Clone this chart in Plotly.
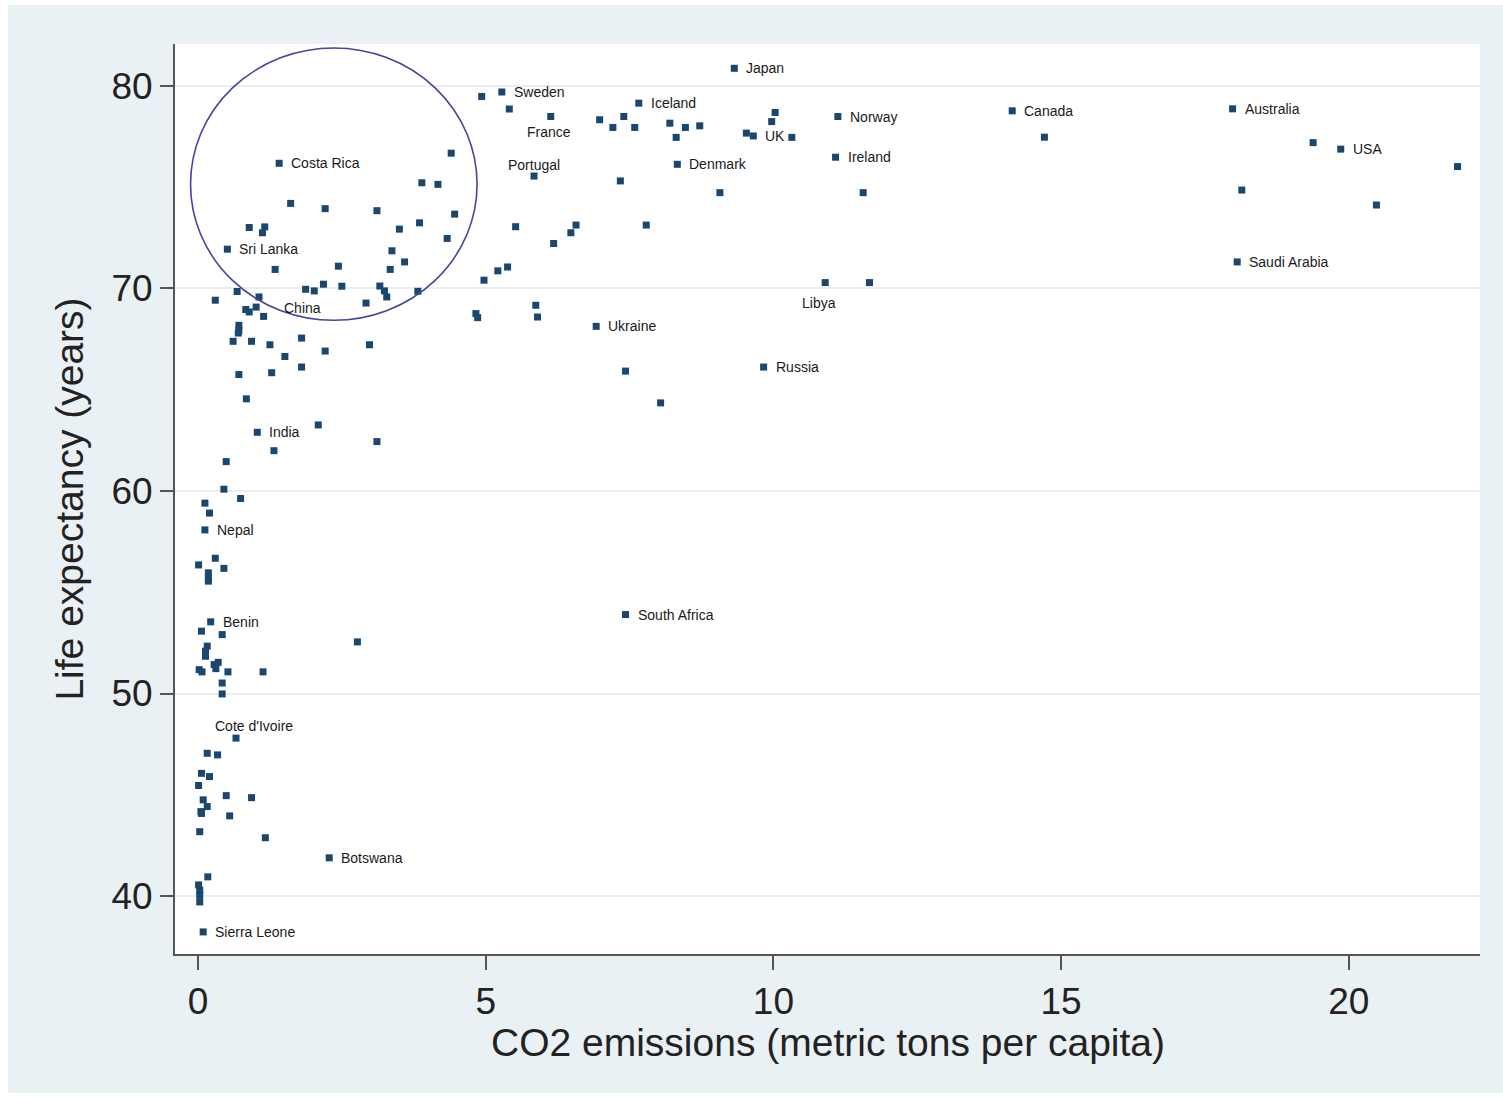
import plotly.graph_objects as go

# ---- data ----
co2 = [4.93, 5.28, 5.41, 1.41, 4.40, 3.89, 4.17, 1.61, 2.21, 3.11, 4.46, 0.89, 1.16, 1.12, 3.85,
       3.50, 4.33, 0.51, 3.37, 3.59, 2.44, 3.34, 1.34, 5.21, 4.97, 2.18, 2.50, 1.87, 2.02, 3.16,
       3.24, 3.28, 3.82, 0.68, 1.06, 0.30, 0.83, 0.89, 1.01, 1.14, 2.92, 4.83, 4.86, 0.71, 0.71,
       0.70, 0.61, 0.93, 1.25, 1.80, 1.51, 2.21, 2.98, 0.71, 1.28, 1.80, 0.84, 1.03, 2.09, 1.32,
       3.11, 0.49, 0.45, 0.74, 0.12, 0.20, 0.12, 0.30, 0.01, 0.45, 0.18, 0.18, 0.18, 0.22, 0.06,
       0.42, 2.77, 0.16, 0.13, 0.13, 0.02, 0.07, 0.28, 0.35, 0.31, 0.52, 1.13, 0.42, 0.42, 0.66,
       0.16, 0.34, 0.06, 0.20, 0.01, 0.09, 0.16, 0.05, 0.06, 0.49, 0.93, 0.55, 0.03, 1.17, 2.28,
       0.17, 0.01, 0.03, 0.03, 0.03, 0.09, 9.32, 7.66, 6.13, 6.98, 7.21, 7.40, 7.59, 8.20, 8.47,
       8.72, 8.31, 10.03, 9.97, 9.53, 9.65, 10.32, 11.12, 11.08, 5.84, 8.33, 7.34, 9.07, 11.56, 5.52,
       6.57, 6.48, 7.79, 6.18, 5.38, 10.90, 11.67, 5.87, 5.90, 6.92, 7.43, 8.04, 9.83, 7.43, 14.15,
       14.71, 17.98, 19.38, 19.86, 21.89, 18.14, 20.48, 18.06]

life_exp = [79.48, 79.70, 78.86, 76.18, 76.68, 75.22, 75.14, 74.20, 73.94, 73.84, 73.67, 73.01, 73.04, 72.75, 73.24,
            72.93, 72.47, 71.94, 71.86, 71.31, 71.10, 70.94, 70.94, 70.87, 70.41, 70.21, 70.11, 69.96, 69.88, 70.12,
            69.88, 69.58, 69.86, 69.85, 69.58, 69.42, 68.96, 68.84, 69.08, 68.62, 69.28, 68.76, 68.56, 68.18, 67.93,
            67.80, 67.39, 67.39, 67.22, 67.55, 66.64, 66.91, 67.22, 65.75, 65.84, 66.12, 64.55, 62.90, 63.26, 61.99,
            62.44, 61.45, 60.09, 59.63, 59.40, 58.91, 58.08, 56.68, 56.35, 56.18, 55.96, 55.72, 55.55, 53.54, 53.08,
            52.91, 52.55, 52.34, 52.09, 51.84, 51.18, 51.07, 51.43, 51.54, 51.23, 51.07, 51.07, 50.52, 49.98, 47.80,
            47.05, 46.97, 46.06, 45.90, 45.46, 44.75, 44.42, 44.17, 44.08, 44.96, 44.86, 43.96, 43.18, 42.88, 41.89,
            40.95, 40.55, 40.29, 40.04, 39.71, 38.23, 80.87, 79.15, 78.49, 78.33, 77.95, 78.49, 77.95, 78.16, 77.95,
            78.03, 77.46, 78.69, 78.24, 77.67, 77.53, 77.46, 78.49, 76.48, 75.55, 76.13, 75.31, 74.73, 74.73, 73.05,
            73.13, 72.75, 73.13, 72.22, 71.06, 70.29, 70.29, 69.17, 68.59, 68.13, 65.92, 64.35, 66.12, 53.90, 78.77,
            77.47, 78.87, 77.20, 76.88, 76.02, 74.86, 74.12, 71.31]

country = ["", "Sweden", "", "Costa Rica", "", "", "", "", "", "", "", "", "", "", "",
           "", "", "Sri Lanka", "", "", "", "", "", "", "", "", "", "", "", "",
           "", "", "", "", "", "", "", "", "", "China", "", "", "", "", "",
           "", "", "", "", "", "", "", "", "", "", "", "", "India", "", "",
           "", "", "", "", "", "", "Nepal", "", "", "", "", "", "", "Benin", "",
           "", "", "", "", "", "", "", "", "", "", "", "", "", "", "Cote d'Ivoire",
           "", "", "", "", "", "", "", "", "", "", "", "", "", "", "Botswana",
           "", "", "", "", "", "Sierra Leone", "Japan", "Iceland", "France", "", "", "", "", "", "",
           "", "", "", "", "", "UK", "", "Norway", "Ireland", "Portugal", "Denmark", "", "", "", "",
           "", "", "", "", "", "Libya", "", "", "", "Ukraine", "", "", "Russia", "South Africa", "Canada",
           "", "Australia", "", "USA", "", "", "", "Saudi Arabia"]

x_ticks = [0, 5, 10, 15, 20]
y_ticks = [40, 50, 60, 70, 80]

# ---- styles ----
# label placement: (xanchor, xshift px, yshift px)
label_offset = {"France": ("center", -2, -15), "Libya": ("center", -6, -20),
                "Portugal": ("center", 0, 11), "Cote d'Ivoire": ("center", 18, 12),
                "China": ("left", 18, 8)}
default_offset = ("left", 10, 0)

label_font = dict(family="Liberation Sans, Arial, sans-serif", size=14, color="#1a1a1a")
axis_font = dict(family="Liberation Sans, Arial, sans-serif", size=37, color="#222222")
title_font = dict(family="Liberation Sans, Arial, sans-serif", size=39, color="#222222")

fig = go.Figure()
fig.add_trace(go.Scatter(
    x=co2, y=life_exp, mode="markers", text=country,
    marker=dict(symbol="square", size=7, color="#1a476f"),
    cliponaxis=False, showlegend=False, hoverinfo="x+y+text"))

for xv, yv, name in zip(co2, life_exp, country):
    if not name:
        continue
    xa, xs, ys = label_offset.get(name, default_offset)
    fig.add_annotation(x=xv, y=yv, xref="x", yref="y", text=name, showarrow=False,
                       xanchor=xa, yanchor="middle", xshift=xs, yshift=ys, font=label_font)

# circle highlighting the cluster
fig.add_shape(type="circle", xref="x", yref="y", x0=-0.13, x1=4.85, y0=68.43, y1=81.87,
              line=dict(color="#45449e", width=1.6), layer="above")

# white page border around the light graph region
for (x0, x1, y0, y1) in [(-0.3, -0.128, -0.3, 1.3), (-0.3, 1.3, 1.0429, 1.3), (-0.3, 1.3, -0.3, -0.1527)]:
    fig.add_shape(type="rect", xref="paper", yref="paper", x0=x0, x1=x1, y0=y0, y1=y1,
                  fillcolor="white", line=dict(width=0), layer="above")

# x-axis title (placed close under the tick labels, as in the reference)
fig.add_annotation(xref="paper", yref="paper", x=0.5, y=-0.097, xanchor="center", yanchor="middle",
                   text="CO2 emissions (metric tons per capita)", showarrow=False, font=title_font)

fig.update_layout(
    width=1503, height=1099,
    margin=dict(l=175, r=23, t=44, b=145),
    paper_bgcolor="#eaf1f4", plot_bgcolor="white",
    xaxis=dict(range=[-0.40, 22.28], tickvals=x_ticks, ticks="outside", ticklen=14, tickwidth=2,
               tickcolor="#555555", showline=True, linecolor="#555555", linewidth=2,
               showgrid=False, zeroline=False, tickfont=axis_font),
    yaxis=dict(range=[37.14, 82.07], tickvals=y_ticks, ticks="outside", ticklen=13, tickwidth=2,
               tickcolor="#555555", showline=True, linecolor="#555555", linewidth=2,
               showgrid=True, gridcolor="#e8eef1", gridwidth=2, zeroline=False, tickfont=axis_font,
               title=dict(text="Life expectancy (years)", font=title_font, standoff=16)),
)

fig.write_html("out.html", config={"displayModeBar": False},
               post_script="document.body.style.margin='0';document.body.style.overflow='hidden';")
